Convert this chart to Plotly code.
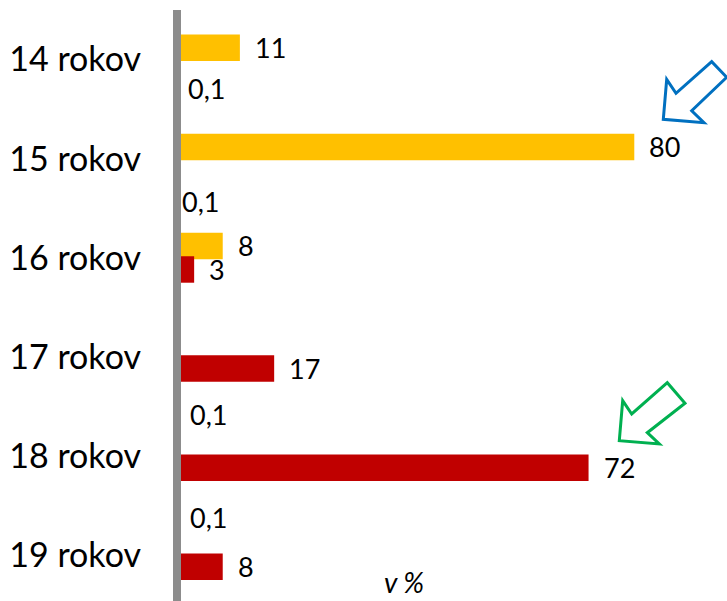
import plotly.graph_objects as go

# ---- data ----
categories = ["14 rokov", "15 rokov", "16 rokov", "17 rokov", "18 rokov", "19 rokov"]
series_yellow = [11, 80, 8, None, 0.1, 0.1]
series_red = [0.1, 0.1, 3, 17, 72, 8]

# ---- style / layout ----
W, H = 727, 601
ML, MR, MT, MB = 173, 0, 10, 0
PW, PH = W - ML - MR, H - MT - MB
YELLOW, RED = "#FFC000", "#C00000"
FONT = "Lato"
BAR_W = 0.267
OFF_Y, OFF_R = -0.252, -0.015
GROUP_SHIFT_PX = 11.75
X_RANGE = [-0.70, 96.22]
# label placement for small (0,1) values: (series, index) -> (xshift, yshift)
small_label_shift = {("r", 0): (8, -28.5), ("r", 1): (2, -43),
                     ("y", 4): (10, 41), ("y", 5): (10, 37.5)}


def fmt(v):
    if float(v).is_integer():
        return str(int(v))
    return str(v).replace(".", ",")


def px(x):
    return (x - ML) / PW


def py(y):
    return 1 - (y - MT) / PH


fig = go.Figure()
fig.add_trace(go.Bar(orientation="h", y=categories, x=series_yellow, marker_color=YELLOW,
                     width=BAR_W, offset=OFF_Y, marker_line_width=0, hoverinfo="skip"))
fig.add_trace(go.Bar(orientation="h", y=categories, x=series_red, marker_color=RED,
                     width=BAR_W, offset=OFF_R, marker_line_width=0, hoverinfo="skip"))

annotations = []
for key, series, ysh in (("y", series_yellow, GROUP_SHIFT_PX), ("r", series_red, -GROUP_SHIFT_PX)):
    for i, v in enumerate(series):
        if v is None:
            continue
        if (key, i) in small_label_shift:
            xs, ys = small_label_shift[(key, i)]
        else:
            xs, ys = 13, ysh
        annotations.append(dict(x=v, y=categories[i], xref="x", yref="y", text=fmt(v),
                                showarrow=False, xanchor="left", yanchor="middle",
                                xshift=xs, yshift=ys,
                                font=dict(family=FONT, size=27, color="black")))

annotations.append(dict(x=px(404), y=py(582), xref="paper", yref="paper", text="<i>v %</i>",
                        showarrow=False, xanchor="center", yanchor="middle", borderpad=0,
                        font=dict(family=FONT, size=28, color="black")))


def arrow_path(pts):
    return "M " + " L ".join(f"{px(a)},{py(b)}" for a, b in pts) + " Z"


blue_pts = [(663.3, 119.3), (666.7, 79.3), (676, 93.3), (711.7, 61.7),
            (726.7, 77.3), (691.7, 110.7), (704, 122.7)]
green_pts = [(619.3, 440.7), (622.7, 400.7), (631.7, 414), (667.3, 382.7),
             (685, 403.3), (647.3, 432.7), (659.3, 444)]
shapes = [
    dict(type="path", xref="paper", yref="paper", path=arrow_path(blue_pts),
         line=dict(color="#0070C0", width=3), fillcolor="white"),
    dict(type="path", xref="paper", yref="paper", path=arrow_path(green_pts),
         line=dict(color="#00B050", width=3), fillcolor="white"),
    # vertical category axis line at x = 0
    dict(type="line", xref="x", yref="paper", x0=0, x1=0, y0=0, y1=1, layer="above",
         line=dict(color="#8c8c8c", width=8)),
]

fig.update_layout(
    width=W, height=H,
    margin=dict(l=ML, r=MR, t=MT, b=MB, pad=0),
    paper_bgcolor="white", plot_bgcolor="white",
    barmode="overlay", showlegend=False,
    annotations=annotations, shapes=shapes,
    font=dict(family=FONT, color="black"),
)
fig.update_xaxes(range=X_RANGE, visible=False, fixedrange=True)
fig.update_yaxes(type="category", categoryorder="array", categoryarray=categories,
                 range=[5.464, -0.5], showline=False,
                 showgrid=False, zeroline=False, ticks="", ticklabelstandoff=31,
                 tickfont=dict(family=FONT, size=34, color="black"), fixedrange=True)

fig.write_html("out.html", config={"displayModeBar": False},
               post_script="document.body.style.margin='0';document.body.style.overflow='hidden';")
